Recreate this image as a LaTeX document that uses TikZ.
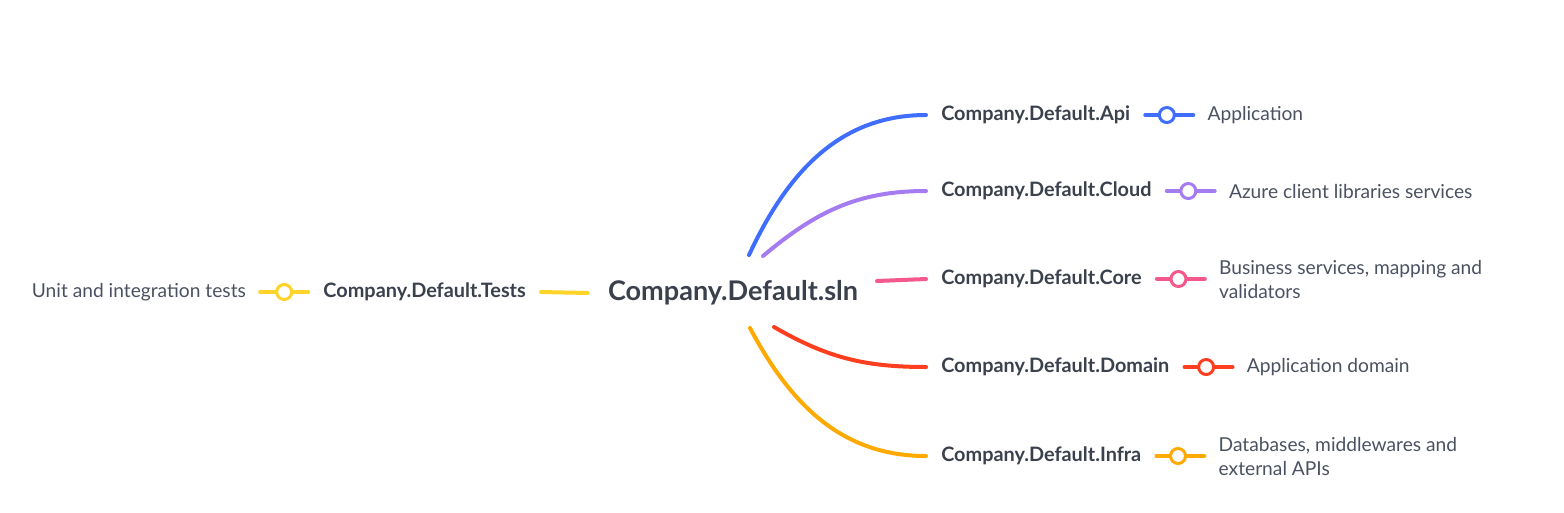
\documentclass[tikz,border=0pt]{standalone}
\usepackage{fontspec}
\setmainfont{Lato}
\usetikzlibrary{positioning}
\definecolor{txt}{HTML}{3A404C}
\definecolor{txtl}{HTML}{4B5160}
\definecolor{apic}{HTML}{3F6EFF}
\definecolor{cloudc}{HTML}{A57BF2}
\definecolor{corec}{HTML}{F5588A}
\definecolor{domc}{HTML}{FF3D1F}
\definecolor{infrac}{HTML}{FFAA00}
\definecolor{testc}{HTML}{FFD42A}

\begin{document}
\begin{tikzpicture}[x=0.75pt,y=-0.75pt,
    root/.style={font=\fontsize{20.3}{24}\selectfont\bfseries, text=txt, inner xsep=15pt},
    proj/.style={font=\fontsize{14.9}{17}\selectfont\bfseries, text=txt, inner xsep=11.25pt},
    desc/.style={font=\fontsize{14.4}{18}\selectfont, text=txtl, inner xsep=10.5pt, align=left},
    branch/.style={line width=3pt, line cap=round, draw=#1},
    knob/.style={circle, draw=#1, line width=2.25pt, fill=white, minimum size=11.25pt, inner sep=0pt}]
  \useasboundingbox (0,0) rectangle (1564,512);
  %root
  \node[root] (sln) at (733,293) {Company.Default.sln};
  %projects
  \node[proj, anchor=west] (api) at (926,115) {Company.Default.Api};
  \node[proj, anchor=west] (cloud) at (926,191) {Company.Default.Cloud};
  \node[proj, anchor=west] (core) at (926,279) {Company.Default.Core};
  \node[proj, anchor=west] (dom) at (926,367) {Company.Default.Domain};
  \node[proj, anchor=west] (infra) at (926,456) {Company.Default.Infra};
  \node[proj, anchor=east] (tests) at (541,292) {Company.Default.Tests};
  %descriptions
  \node[desc, right=36pt of api] (apid) {Application};
  \node[desc, right=36pt of cloud] (cloudd) {Azure client libraries services};
  \node[desc, right=36pt of core] (cored) {Business services, mapping and\\validators};
  \node[desc, right=36pt of dom] (domd) {Application domain};
  \node[desc, right=36pt of infra] (infrad) {Databases, middlewares and\\external APIs};
  \node[desc, left=36pt of tests] (testsd) {Unit and integration tests};
  %branch starts
  \coordinate (s-api) at (749,255);
  \coordinate (s-cloud) at (763,256);
  \coordinate (s-core) at (877,281);
  \coordinate (s-dom) at (774,327);
  \coordinate (s-infra) at (750,328);
  %branches
  \draw[branch=apic] (s-api) to[out=65, in=180] (api.west);
  \draw[branch=cloudc] (s-cloud) to[out=40, in=180] (cloud.west);
  \draw[branch=corec] (s-core) -- (core.west);
  \draw[branch=domc] (s-dom) to[out=-30, in=180] (dom.west);
  \draw[branch=infrac] (s-infra) to[out=-62, in=180] (infra.west);
  \draw[branch=testc] (sln.west) -- (tests.east);
  %markers
  \draw[branch=apic] (api.east) -- node[knob=apic, pos=0.45] {} (apid.west);
  \draw[branch=cloudc] (cloud.east) -- node[knob=cloudc, pos=0.45] {} (cloudd.west);
  \draw[branch=corec] (core.east) -- node[knob=corec, pos=0.45] {} (cored.west);
  \draw[branch=domc] (dom.east) -- node[knob=domc, pos=0.45] {} (domd.west);
  \draw[branch=infrac] (infra.east) -- node[knob=infrac, pos=0.45] {} (infrad.west);
  \draw[branch=testc] (tests.west) -- node[knob=testc] {} (testsd.east);
\end{tikzpicture}
\end{document}
